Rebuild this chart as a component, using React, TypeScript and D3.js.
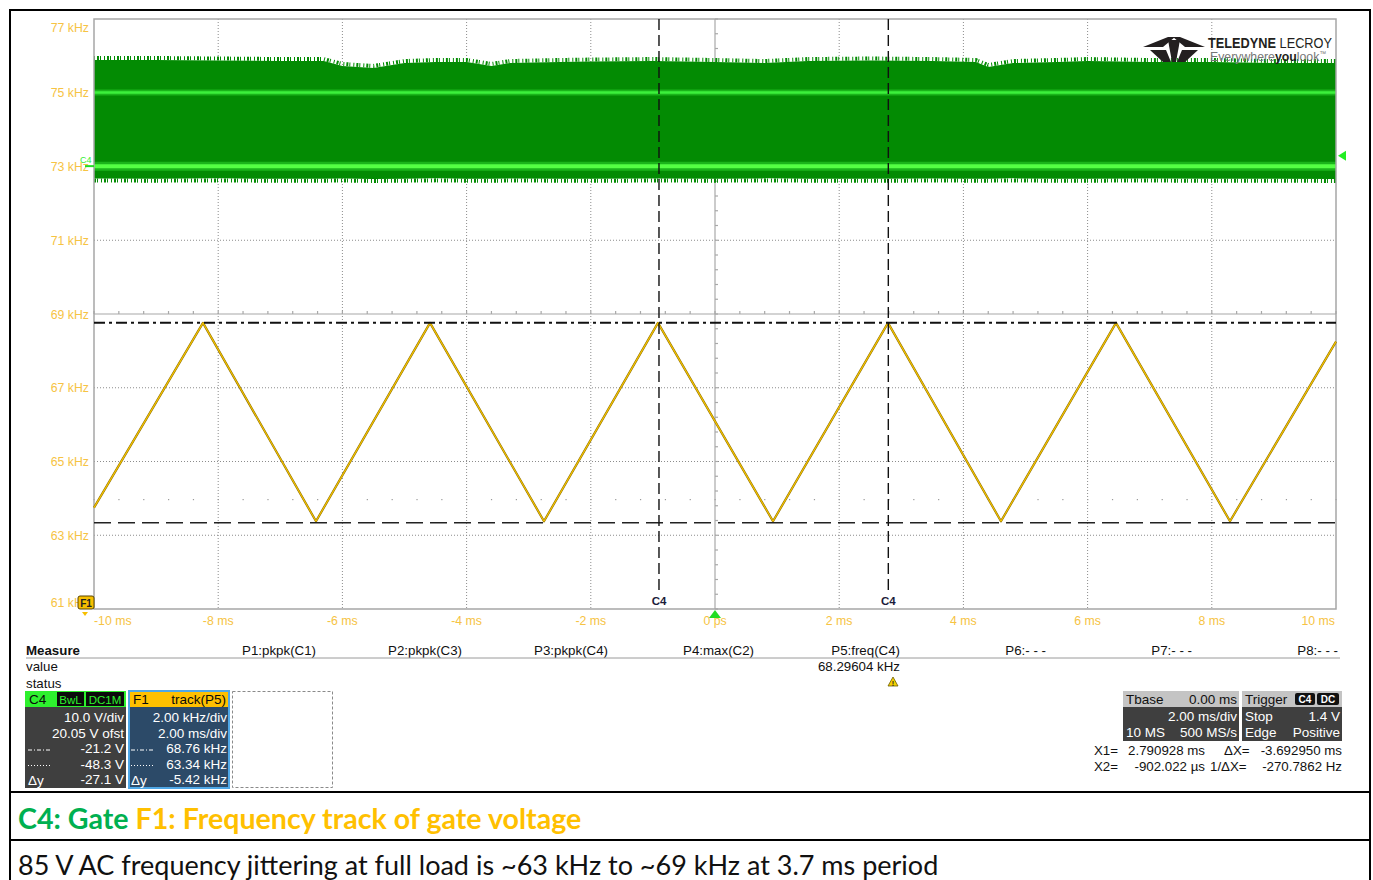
import * as d3 from 'd3'

// time axis, ms
const xTickValues = [-10, -8, -6, -4, -2, 0, 2, 4, 6, 8, 10]
const xTickLabels = ['-10 ms', '-8 ms', '-6 ms', '-4 ms', '-2 ms', '0 ps', '2 ms', '4 ms', '6 ms', '8 ms', '10 ms']
// F1 axis, kHz
const yTickValues = [77, 75, 73, 71, 69, 67, 65, 63, 61]
const yTickLabels = ['77 kHz', '75 kHz', '73 kHz', '71 kHz', '69 kHz', '67 kHz', '65 kHz', '63 kHz', '61 kHz']

// F1: frequency track of gate (turning points)
const f1Time = [-10, -8.245, -6.425, -4.589, -2.754, -0.918, 0.934, 2.786, 4.605, 6.457, 8.293, 10]
const f1Freq = [63.75, 68.76, 63.38, 68.76, 63.38, 68.76, 63.38, 68.76, 63.38, 68.76, 63.38, 68.25]

// C4: gate voltage envelope (V)
const c4Time = [-10, -9, -8, -7, -6.3, -6.0, -5.5, -5.0, -4.5, -4.0, -3.6, -3.3, -2.5, -2, -1, 0, 0.8, 1.5, 2.5, 3.5, 4.2, 4.4, 4.8, 5.5, 6, 7, 8, 9, 10]
const c4Top = [14.39, 14.39, 14.32, 14.25, 14.25, 13.58, 13.31, 13.98, 14.12, 14.12, 13.58, 13.98, 14.12, 14.18, 14.25, 14.12, 13.98, 14.25, 14.32, 14.25, 14.12, 13.44, 13.98, 14.12, 14.25, 14.12, 14.12, 13.98, 13.98]
const c4Bottom = [-1.68, -1.7, -1.66, -1.72, -1.7, -1.68, -1.74, -1.7, -1.66, -1.7, -1.72, -1.68, -1.7, -1.72, -1.68, -1.7, -1.66, -1.7, -1.72, -1.68, -1.7, -1.7, -1.66, -1.72, -1.7, -1.68, -1.72, -1.7, -1.74]
const c4Levels = [10, 0]

// cursors
const cursorTimes = [-0.902022, 2.790928]
const cursorFreqs = [68.76, 63.34]
const triggerLevel = 1.4

const measureHeaders = ['P1:pkpk(C1)', 'P2:pkpk(C3)', 'P3:pkpk(C4)', 'P4:max(C2)', 'P5:freq(C4)', 'P6:- - -', 'P7:- - -', 'P8:- - -']
const measureValues = ['', '', '', '', '68.29604 kHz', '', '', '']

const c4Rows = ['10.0 V/div', '20.05 V ofst', '-21.2 V', '-48.3 V', '-27.1 V']
const f1Rows = ['2.00 kHz/div', '2.00 ms/div', '68.76 kHz', '63.34 kHz', '-5.42 kHz']

const FONT = 'Liberation Sans, Arial, sans-serif'
const AXIS_COLOR = '#f6c343'

const plot = { left: 94, right: 1336, top: 19, bottom: 609 }

export default function App() {
  const x = d3.scaleLinear().domain([-10, 10]).range([plot.left, plot.right])
  const yF = d3.scaleLinear().domain([61, 77]).range([plot.bottom, plot.top])
  const yV = d3.scaleLinear().domain([-60.05, 19.95]).range([plot.bottom, plot.top])

  const divW = (plot.right - plot.left) / 10
  const divH = (plot.bottom - plot.top) / 8
  const cx = x(0)
  const cy = yF(69)

  const gridX = d3.range(1, 10).filter(i => i !== 5).map(i => plot.left + i * divW)
  const gridY = d3.range(1, 8).filter(i => i !== 4).map(i => plot.top + i * divH)
  const minorX = d3.range(0, 51).map(i => plot.left + i * divW / 5)
  const minorY = d3.range(0, 41).map(i => plot.top + i * divH / 5)

  const f1Line = d3.line<number>()
    .x((d, i) => x(f1Time[i]))
    .y(d => yF(d))

  const c4Area = d3.area<number>()
    .x((d, i) => x(c4Time[i]))
    .y0((d, i) => yV(c4Bottom[i]))
    .y1(d => yV(d))

  const c4TopLine = d3.line<number>()
    .x((d, i) => x(c4Time[i]))
    .y(d => yV(d) - 2)
  const c4BotLine = d3.line<number>()
    .x((d, i) => x(c4Time[i]))
    .y(d => yV(d) + 2)

  const colRight = d3.scaleLinear().domain([0, 7]).range([316, 1338])

  return (
    <svg width={1373} height={880} viewBox="0 0 1373 880"
      style={{ position: 'absolute', left: 0, top: 0, background: '#fff' }}
      fontFamily={FONT}>
      <rect x={0} y={0} width={1373} height={880} fill="#fff" />

      {/* grid */}
      <g stroke="#8c8c8c" strokeWidth={1} strokeDasharray="1,2">
        {gridX.map(gx => <line key={'gx' + gx} x1={gx} x2={gx} y1={plot.top} y2={plot.bottom} />)}
        {gridY.map(gy => <line key={'gy' + gy} x1={plot.left} x2={plot.right} y1={gy} y2={gy} />)}
      </g>
      <g fill="#9a9a9a">
        {minorX.map(mx => <rect key={'md' + mx} x={mx - 0.5} y={499} width={1.2} height={1.2} />)}
      </g>
      {/* center lines with ticks */}
      <g stroke="#a8a8a8" strokeWidth={1.2}>
        <line x1={plot.left} x2={plot.right} y1={cy} y2={cy} />
        <line x1={cx} x2={cx} y1={plot.top} y2={plot.bottom} />
        {minorX.map(mx => <line key={'tx' + mx} x1={mx} x2={mx} y1={cy - 3} y2={cy} />)}
        {minorY.map(my => <line key={'ty' + my} x1={cx} x2={cx + 3} y1={my} y2={my} />)}
      </g>

      {/* C4 gate band */}
      <path d={c4Area(c4Top) ?? ''} fill="#038b03" />
      <path d={c4TopLine(c4Top) ?? ''} fill="none" stroke="#038b03" strokeWidth={4} strokeDasharray="1,2,2,1,1,3" />
      <path d={c4BotLine(c4Bottom) ?? ''} fill="none" stroke="#038b03" strokeWidth={4} strokeDasharray="2,1,1,3,1,2" />
      {c4Levels.map((lv, i) => (
        <g key={'lv' + lv}>
          <line x1={plot.left} x2={plot.right} y1={yV(lv)} y2={yV(lv)}
            stroke="#2fd62f" strokeWidth={i === 0 ? 6 : 9} opacity={0.55} />
          <line x1={plot.left} x2={plot.right} y1={yV(lv)} y2={yV(lv)}
            stroke={i === 0 ? '#3cf03c' : '#55ff44'} strokeWidth={i === 0 ? 2.5 : 4} />
        </g>
      ))}

      {/* plot frame */}
      <rect x={plot.left} y={plot.top} width={plot.right - plot.left} height={plot.bottom - plot.top}
        fill="none" stroke="#a6a6a6" strokeWidth={1.5} />

      {/* F1 track */}
      <path d={f1Line(f1Freq) ?? ''} fill="none" stroke="#8a6a00" strokeWidth={2.2} strokeLinejoin="round" />
      <path d={f1Line(f1Freq) ?? ''} fill="none" stroke="#f2c200" strokeWidth={1.2} strokeLinejoin="round" />

      {/* cursors */}
      <line x1={plot.left} x2={plot.right} y1={yF(cursorFreqs[0])} y2={yF(cursorFreqs[0])}
        stroke="#111" strokeWidth={2} strokeDasharray="11,4,3,4" />
      <line x1={plot.left} x2={plot.right} y1={yF(cursorFreqs[1])} y2={yF(cursorFreqs[1])}
        stroke="#222" strokeWidth={1.6} strokeDasharray="17,7" />
      {cursorTimes.map(t => (
        <g key={'ct' + t}>
          <line x1={x(t)} x2={x(t)} y1={plot.top} y2={plot.bottom - 14}
            stroke="#111" strokeWidth={1.4} strokeDasharray="11,5" />
          <text x={x(t)} y={605} textAnchor="middle" fontSize={11.5} fontWeight="bold" fill="#1c1c3a">C4</text>
        </g>
      ))}

      {/* y labels */}
      {yTickValues.map((v, i) => {
        let yy = yF(v) + 4.5
        if (i === 0) yy = yF(v) + 13
        if (i === yTickValues.length - 1) yy = yF(v) - 2
        return (
          <text key={'yl' + v} x={89} y={yy} textAnchor="end" fontSize={12.3} fill={AXIS_COLOR}>{yTickLabels[i]}</text>
        )
      })}
      {/* x labels */}
      {xTickValues.map((v, i) => {
        const anchor = i === 0 ? 'start' : i === xTickValues.length - 1 ? 'end' : 'middle'
        const xx = i === 0 ? x(v) + 0 : i === xTickValues.length - 1 ? x(v) - 1 : x(v)
        return (
          <text key={'xl' + v} x={xx} y={625} textAnchor={anchor} fontSize={12.3} fill={AXIS_COLOR}>{xTickLabels[i]}</text>
        )
      })}

      {/* markers */}
      <text x={80} y={163} fontSize={9} fill="#33ee33">C4</text>
      <line x1={85} x2={94} y1={yV(0)} y2={yV(0)} stroke="#22dd22" strokeWidth={2} />
      <path d={`M${plot.right + 2},${yV(triggerLevel)} l8,-5 v10 z`} fill="#22ee22" />
      <path d={`M${cx},${plot.bottom + 1} l-6,8 h12 z`} fill="#22dd22" />
      <rect x={78} y={596} width={16} height={13} rx={2} fill="#f7bf00" stroke="#5a4500" strokeWidth={1} />
      <text x={86} y={606.5} textAnchor="middle" fontSize={10} fontWeight="bold" fill="#222">F1</text>
      <path d={`M82,612 h6 l-3,4 z`} fill="#f7bf00" />

      {/* logo */}
      <g fill="#231f20">
        <path d="M1143,47 L1168,37 L1175,37 L1163,47 Z" />
        <path d="M1205,47 L1180,37 L1173,37 L1185,47 Z" />
        <path d="M1150,50 L1166,50 L1171,62 L1163,62 Z" />
        <path d="M1198,50 L1182,50 L1177,62 L1185,62 Z" />
        <path d="M1168,40 L1180,40 L1176,62 L1172,62 Z" />
      </g>
      <text x={1208} y={48} fontSize={15} fill="#231f20" textLength={124} lengthAdjust="spacingAndGlyphs">
        <tspan fontWeight="bold">TELEDYNE</tspan> LECROY
      </text>
      <text x={1210} y={61} fontSize={13} fill="#777" textLength={116} lengthAdjust="spacingAndGlyphs">
        Everywhere<tspan fontWeight="bold" fill="#231f20">you</tspan>look<tspan fontSize={7} dy={-5}>™</tspan>
      </text>

      {/* measure table */}
      <text x={26} y={655} fontSize={13.3} fontWeight="bold" fill="#111">Measure</text>
      {measureHeaders.map((h, i) => (
        <text key={'mh' + i} x={colRight(i)} y={655} textAnchor="end" fontSize={13.3} fill="#111">{h}</text>
      ))}
      <line x1={26} x2={1340} y1={658} y2={658} stroke="#9a9a9a" strokeWidth={1} />
      <text x={26} y={671} fontSize={13.3} fill="#111">value</text>
      <text x={26} y={688} fontSize={13.3} fill="#111">status</text>
      {measureValues.map((v, i) => v ? (
        <text key={'mv' + i} x={colRight(i)} y={671} textAnchor="end" fontSize={13.3} fill="#111">{v}</text>
      ) : null)}
      <path d="M893,677 l5,9 h-10 z" fill="#f5d000" stroke="#6a5a00" strokeWidth={0.8} />
      <text x={893} y={685.5} textAnchor="middle" fontSize={7} fontWeight="bold" fill="#222">!</text>

      {/* C4 descriptor box */}
      <rect x={25} y={691} width={101} height={97} fill="#3f3f3f" />
      <rect x={25} y={691} width={101} height={16} fill="#2ef02e" />
      <text x={29} y={704} fontSize={13.5} fill="#0a0a0a">C4</text>
      <rect x={57} y={692} width={27} height={14} fill="#0b0b0b" />
      <text x={70.5} y={703.5} textAnchor="middle" fontSize={11.5} fill="#2ef02e">BwL</text>
      <rect x={86} y={692} width={38} height={14} fill="#0b0b0b" />
      <text x={105} y={703.5} textAnchor="middle" fontSize={11.5} fill="#2ef02e">DC1M</text>
      {c4Rows.map((r, i) => (
        <text key={'c4r' + i} x={124} y={722 + i * 15.6} textAnchor="end" fontSize={13.5} fill="#fff">{r}</text>
      ))}
      <line x1={28} x2={50} y1={750} y2={750} stroke="#fff" strokeWidth={1} strokeDasharray="4,2,1,2" />
      <line x1={28} x2={50} y1={765.5} y2={765.5} stroke="#fff" strokeWidth={1} strokeDasharray="1,2" />
      <text x={28} y={784.5} fontSize={13.5} fill="#fff">Δy</text>

      {/* F1 descriptor box */}
      <rect x={129} y={691} width={100} height={97} fill="#2c4a68" stroke="#4fa7e6" strokeWidth={2} />
      <rect x={130} y={692} width={98} height={15} fill="#ffc000" />
      <text x={133} y={704} fontSize={13.5} fill="#0a0a0a">F1</text>
      <text x={226} y={704} textAnchor="end" fontSize={13.5} fill="#0a0a0a">track(P5)</text>
      {f1Rows.map((r, i) => (
        <text key={'f1r' + i} x={227} y={722 + i * 15.6} textAnchor="end" fontSize={13.5} fill="#fff">{r}</text>
      ))}
      <line x1={131} x2={153} y1={750} y2={750} stroke="#fff" strokeWidth={1} strokeDasharray="4,2,1,2" />
      <line x1={131} x2={153} y1={765.5} y2={765.5} stroke="#fff" strokeWidth={1} strokeDasharray="1,2" />
      <text x={131} y={784.5} fontSize={13.5} fill="#fff">Δy</text>

      <rect x={232.5} y={691.5} width={100} height={96} fill="none" stroke="#8a8a8a" strokeWidth={1} strokeDasharray="3,2" />

      {/* timebase / trigger */}
      <rect x={1123} y={691} width={116} height={50} fill="#3f3f3f" />
      <rect x={1123} y={691} width={116} height={16} fill="#c4c4c4" />
      <text x={1126} y={704} fontSize={13.5} fill="#111">Tbase</text>
      <text x={1237} y={704} textAnchor="end" fontSize={13.5} fill="#111">0.00 ms</text>
      <text x={1237} y={721} textAnchor="end" fontSize={13.5} fill="#fff">2.00 ms/div</text>
      <text x={1126} y={737} fontSize={13.5} fill="#fff">10 MS</text>
      <text x={1237} y={737} textAnchor="end" fontSize={13.5} fill="#fff">500 MS/s</text>

      <rect x={1242} y={691} width={100} height={50} fill="#3f3f3f" />
      <rect x={1242} y={691} width={100} height={16} fill="#c4c4c4" />
      <text x={1245} y={704} fontSize={13.5} fill="#111">Trigger</text>
      <rect x={1295} y={693} width={20} height={12} rx={2} fill="#111" />
      <text x={1305} y={703} textAnchor="middle" fontSize={10} fontWeight="bold" fill="#fff">C4</text>
      <rect x={1317} y={693} width={22} height={12} rx={2} fill="#111" />
      <text x={1328} y={703} textAnchor="middle" fontSize={10} fontWeight="bold" fill="#fff">DC</text>
      <text x={1245} y={721} fontSize={13.5} fill="#fff">Stop</text>
      <text x={1340} y={721} textAnchor="end" fontSize={13.5} fill="#fff">1.4 V</text>
      <text x={1245} y={737} fontSize={13.5} fill="#fff">Edge</text>
      <text x={1340} y={737} textAnchor="end" fontSize={13.5} fill="#fff">Positive</text>

      <g fontSize={13.3} fill="#111">
        <text x={1094} y={755}>X1=</text>
        <text x={1205} y={755} textAnchor="end">2.790928 ms</text>
        <text x={1224} y={755}>ΔX=</text>
        <text x={1342} y={755} textAnchor="end">-3.692950 ms</text>
        <text x={1094} y={771}>X2=</text>
        <text x={1205} y={771} textAnchor="end">-902.022 µs</text>
        <text x={1210} y={771}>1/ΔX=</text>
        <text x={1342} y={771} textAnchor="end">-270.7862 Hz</text>
      </g>

      {/* outer frame */}
      <g stroke="#000" strokeWidth={2} fill="none">
        <line x1={10} x2={10} y1={9} y2={880} />
        <line x1={1370} x2={1370} y1={9} y2={880} />
        <line x1={9} x2={1371} y1={10} y2={10} />
        <line x1={9} x2={1371} y1={792} y2={792} />
        <line x1={9} x2={1371} y1={840} y2={840} />
      </g>

      {/* captions */}
      <text x={18} y={829} fontFamily="Lato, Open Sans, sans-serif" fontSize={28.6} fontWeight="bold">
        <tspan fill="#00b050">C4: Gate </tspan>
        <tspan fill="#ffc000">F1: Frequency track of gate voltage</tspan>
      </text>
      <text x={18} y={875} fontFamily="Lato, Open Sans, sans-serif" fontSize={27} fill="#111">
        85 V AC frequency jittering at full load is ~63 kHz to ~69 kHz at 3.7 ms period
      </text>
    </svg>
  )
}
